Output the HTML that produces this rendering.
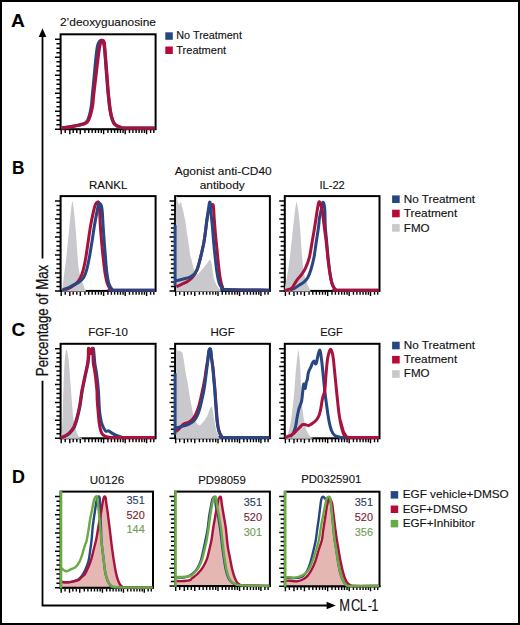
<!DOCTYPE html>
<html><head><meta charset="utf-8"><title>figure</title>
<style>
html,body{margin:0;padding:0;background:#fff;width:520px;height:625px;overflow:hidden;}
svg{display:block;}
text{font-family:"Liberation Sans",sans-serif;}
</style></head><body>
<svg width="520" height="625" viewBox="0 0 520 625">
<rect x="0" y="0" width="520" height="625" fill="#fff"/>
<rect x="60.6" y="34.3" width="95" height="94.9" fill="none" stroke="#000" stroke-width="2"/>
<path d="M55 129.2H60.6M56.4 124.7H60.6M56.4 120.2H60.6M56.4 115.7H60.6M55 111.2H60.6M56.4 106.7H60.6M56.4 102.2H60.6M56.4 97.7H60.6M55 93.2H60.6M56.4 88.7H60.6M56.4 84.2H60.6M56.4 79.7H60.6M55 75.2H60.6M56.4 70.7H60.6M56.4 66.2H60.6M56.4 61.7H60.6M55 57.2H60.6M56.4 52.7H60.6M56.4 48.2H60.6M56.4 43.7H60.6M55 39.2H60.6" stroke="#000" stroke-width="1.5" fill="none"/>
<path d="M61.2 129.7V134.2M69.8 129.7V134.2M80.3 129.7V134.2M103.6 129.7V134.2M125.2 129.7V134.2M146.6 129.7V134.2M65.2 129.7V133.1M73.2 129.7V133.1M76.8 129.7V133.1M84.96 129.7V133.1M88.69 129.7V133.1M92.18 129.7V133.1M95.44 129.7V133.1M98.47 129.7V133.1M101.27 129.7V133.1M107.92 129.7V133.1M111.38 129.7V133.1M114.62 129.7V133.1M117.64 129.7V133.1M120.45 129.7V133.1M123.04 129.7V133.1M129.48 129.7V133.1M132.9 129.7V133.1M136.11 129.7V133.1M139.11 129.7V133.1M141.89 129.7V133.1M144.46 129.7V133.1M150.6 129.7V133.1M153.8 129.7V133.1" stroke="#000" stroke-width="1.4" fill="none"/>
<path d="M61 128C62.17 127.85 65.67 127.47 68 127.1C70.33 126.73 73 126.2 75 125.8C77 125.4 78.33 125.13 80 124.7C81.67 124.27 83.75 123.9 85 123.2C86.25 122.5 86.78 121.7 87.5 120.5C88.22 119.3 88.78 117.67 89.3 116C89.82 114.33 90.22 112.42 90.6 110.5C90.98 108.58 91.3 107.02 91.6 104.5C91.9 101.98 92.02 99.48 92.4 95.4C92.78 91.32 93.42 85.12 93.9 80C94.38 74.88 94.88 69.03 95.3 64.7C95.72 60.37 96.02 57.12 96.4 54C96.78 50.88 97.08 48.08 97.6 46C98.12 43.92 98.85 42.45 99.5 41.5C100.15 40.55 100.85 40.13 101.5 40.3C102.15 40.47 102.88 40.98 103.4 42.5C103.92 44.02 104.2 45.7 104.6 49.4C105 53.1 105.4 59.6 105.8 64.7C106.2 69.8 106.58 74.88 107 80C107.42 85.12 107.78 90.27 108.3 95.4C108.82 100.53 109.43 106.7 110.1 110.8C110.77 114.9 111.48 117.7 112.3 120C113.12 122.3 113.77 123.43 115 124.6C116.23 125.77 118.03 126.43 119.7 127C121.37 127.57 119.1 127.83 125 128C130.9 128.17 150.08 128 155.1 128" fill="none" stroke="#284782" stroke-width="3.2" stroke-linejoin="round" stroke-linecap="butt"/>
<path d="M61 128C62.17 127.88 65.67 127.63 68 127.3C70.33 126.97 73 126.38 75 126C77 125.62 78.33 125.4 80 125C81.67 124.6 83.67 124.27 85 123.6C86.33 122.93 87.17 122.18 88 121C88.83 119.82 89.42 118.17 90 116.5C90.58 114.83 91.05 112.92 91.5 111C91.95 109.08 92.35 107.6 92.7 105C93.05 102.4 93.15 99.57 93.6 95.4C94.05 91.23 94.8 85.12 95.4 80C96 74.88 96.58 69.7 97.2 64.7C97.82 59.7 98.53 53.7 99.1 50C99.67 46.3 100.05 44.12 100.6 42.5C101.15 40.88 101.82 40.38 102.4 40.3C102.98 40.22 103.68 40.48 104.1 42C104.52 43.52 104.57 45.62 104.9 49.4C105.23 53.18 105.7 59.6 106.1 64.7C106.5 69.8 106.88 74.88 107.3 80C107.72 85.12 108.08 90.27 108.6 95.4C109.12 100.53 109.73 106.7 110.4 110.8C111.07 114.9 111.78 117.7 112.6 120C113.42 122.3 114.07 123.43 115.3 124.6C116.53 125.77 118.38 126.43 120 127C121.62 127.57 119.15 127.83 125 128C130.85 128.17 150.08 128 155.1 128" fill="none" stroke="#a8123c" stroke-width="3.2" stroke-linejoin="round" stroke-linecap="butt"/>
<rect x="60.6" y="196.1" width="95" height="94.8" fill="none" stroke="#000" stroke-width="2"/>
<path d="M55 290.9H60.6M56.4 286.4H60.6M56.4 281.91H60.6M56.4 277.41H60.6M55 272.92H60.6M56.4 268.42H60.6M56.4 263.93H60.6M56.4 259.43H60.6M55 254.94H60.6M56.4 250.44H60.6M56.4 245.95H60.6M56.4 241.45H60.6M55 236.96H60.6M56.4 232.46H60.6M56.4 227.97H60.6M56.4 223.47H60.6M55 218.97H60.6M56.4 214.48H60.6M56.4 209.98H60.6M56.4 205.49H60.6M55 200.99H60.6" stroke="#000" stroke-width="1.5" fill="none"/>
<path d="M61.2 291.4V295.9M69.8 291.4V295.9M80.3 291.4V295.9M103.6 291.4V295.9M125.2 291.4V295.9M146.6 291.4V295.9M65.2 291.4V294.8M73.2 291.4V294.8M76.8 291.4V294.8M84.96 291.4V294.8M88.69 291.4V294.8M92.18 291.4V294.8M95.44 291.4V294.8M98.47 291.4V294.8M101.27 291.4V294.8M107.92 291.4V294.8M111.38 291.4V294.8M114.62 291.4V294.8M117.64 291.4V294.8M120.45 291.4V294.8M123.04 291.4V294.8M129.48 291.4V294.8M132.9 291.4V294.8M136.11 291.4V294.8M139.11 291.4V294.8M141.89 291.4V294.8M144.46 291.4V294.8M150.6 291.4V294.8M153.8 291.4V294.8" stroke="#000" stroke-width="1.4" fill="none"/>
<rect x="175.1" y="196.1" width="94.8" height="94.8" fill="none" stroke="#000" stroke-width="2"/>
<path d="M169.5 290.9H175.1M170.9 286.4H175.1M170.9 281.91H175.1M170.9 277.41H175.1M169.5 272.92H175.1M170.9 268.42H175.1M170.9 263.93H175.1M170.9 259.43H175.1M169.5 254.94H175.1M170.9 250.44H175.1M170.9 245.95H175.1M170.9 241.45H175.1M169.5 236.96H175.1M170.9 232.46H175.1M170.9 227.97H175.1M170.9 223.47H175.1M169.5 218.97H175.1M170.9 214.48H175.1M170.9 209.98H175.1M170.9 205.49H175.1M169.5 200.99H175.1" stroke="#000" stroke-width="1.5" fill="none"/>
<path d="M175.7 291.4V295.9M184.28 291.4V295.9M194.76 291.4V295.9M218.01 291.4V295.9M239.56 291.4V295.9M260.92 291.4V295.9M179.69 291.4V294.8M187.67 291.4V294.8M191.26 291.4V294.8M199.41 291.4V294.8M203.13 291.4V294.8M206.62 291.4V294.8M209.87 291.4V294.8M212.89 291.4V294.8M215.68 291.4V294.8M222.32 291.4V294.8M225.77 291.4V294.8M229 291.4V294.8M232.02 291.4V294.8M234.82 291.4V294.8M237.41 291.4V294.8M243.84 291.4V294.8M247.25 291.4V294.8M250.46 291.4V294.8M253.45 291.4V294.8M256.22 291.4V294.8M258.79 291.4V294.8M264.91 291.4V294.8M268.11 291.4V294.8" stroke="#000" stroke-width="1.4" fill="none"/>
<rect x="284.8" y="196.1" width="94.7" height="94.8" fill="none" stroke="#000" stroke-width="2"/>
<path d="M279.2 290.9H284.8M280.6 286.4H284.8M280.6 281.91H284.8M280.6 277.41H284.8M279.2 272.92H284.8M280.6 268.42H284.8M280.6 263.93H284.8M280.6 259.43H284.8M279.2 254.94H284.8M280.6 250.44H284.8M280.6 245.95H284.8M280.6 241.45H284.8M279.2 236.96H284.8M280.6 232.46H284.8M280.6 227.97H284.8M280.6 223.47H284.8M279.2 218.97H284.8M280.6 214.48H284.8M280.6 209.98H284.8M280.6 205.49H284.8M279.2 200.99H284.8" stroke="#000" stroke-width="1.5" fill="none"/>
<path d="M285.4 291.4V295.9M293.97 291.4V295.9M304.44 291.4V295.9M327.66 291.4V295.9M349.2 291.4V295.9M370.53 291.4V295.9M289.38 291.4V294.8M297.36 291.4V294.8M300.95 291.4V294.8M309.08 291.4V294.8M312.8 291.4V294.8M316.28 291.4V294.8M319.53 291.4V294.8M322.55 291.4V294.8M325.34 291.4V294.8M331.97 291.4V294.8M335.42 291.4V294.8M338.65 291.4V294.8M341.66 291.4V294.8M344.46 291.4V294.8M347.04 291.4V294.8M353.46 291.4V294.8M356.88 291.4V294.8M360.08 291.4V294.8M363.06 291.4V294.8M365.84 291.4V294.8M368.4 291.4V294.8M374.52 291.4V294.8M377.71 291.4V294.8" stroke="#000" stroke-width="1.4" fill="none"/>
<path d="M62 291.4C62 291.2 61.87 291.25 62 290.2C62.13 289.15 62.38 287.99 62.77 285.09C63.15 282.19 63.72 277.41 64.3 272.8C64.89 268.19 65.71 262.56 66.3 257.44C66.89 252.32 67.33 247.2 67.84 242.08C68.35 236.96 68.86 231.84 69.37 226.72C69.89 221.6 70.5 215.2 70.91 211.36C71.32 207.52 71.58 205.32 71.83 203.68C72.09 202.04 72.24 201.53 72.45 201.53C72.65 201.53 72.81 202.04 73.06 203.68C73.32 205.32 73.57 207.52 73.98 211.36C74.39 215.2 75.08 221.6 75.52 226.72C75.95 231.84 76.24 236.96 76.59 242.08C76.95 247.2 77.29 252.83 77.67 257.44C78.05 262.05 78.31 266.14 78.9 269.73C79.49 273.31 80.44 276.38 81.2 278.94C81.97 281.5 82.87 283.3 83.51 285.09C84.15 286.88 84.66 288.84 85.04 289.7C85.43 290.55 85.68 289.92 85.81 290.2C85.94 290.48 85.81 291.2 85.81 291.4Z" fill="#c9c9cd" stroke="none"/>
<path d="M65.07 290C66.1 289.49 69.17 288.21 71.22 286.93C73.27 285.65 75.83 283.86 77.36 282.32C78.9 280.79 79.46 279.76 80.44 277.72C81.41 275.67 82.3 273.41 83.2 270.04C84.1 266.66 84.99 262.1 85.81 257.44C86.63 252.78 87.35 247.2 88.12 242.08C88.89 236.96 89.53 231.84 90.42 226.72C91.32 221.6 92.65 215.07 93.49 211.36C94.34 207.65 94.85 205.98 95.49 204.45C96.13 202.91 96.77 202.4 97.34 202.14C97.9 201.89 98.49 201.38 98.87 202.91C99.26 204.45 99.38 207.39 99.64 211.36C99.9 215.33 100.07 221.6 100.41 226.72C100.74 231.84 101.18 236.96 101.64 242.08C102.1 247.2 102.61 252.32 103.17 257.44C103.74 262.56 104.33 268.45 105.02 272.8C105.71 277.15 106.43 280.84 107.32 283.55C108.22 286.27 109.5 287.97 110.39 289.08C111.29 290.19 105.25 290.01 112.7 290.2C120.15 290.39 148.03 290.2 155.1 290.2" fill="none" stroke="#a8123c" stroke-width="3" stroke-linejoin="round" stroke-linecap="butt"/>
<path d="M62 290.2C62.77 289.91 64.82 289.27 66.61 288.47C68.4 287.67 70.71 286.42 72.75 285.4C74.8 284.37 77.11 283.6 78.9 282.32C80.69 281.04 82.23 279.76 83.51 277.72C84.79 275.67 85.61 273.41 86.58 270.04C87.55 266.66 88.45 262.1 89.35 257.44C90.24 252.78 91.14 247.2 91.96 242.08C92.78 236.96 93.42 231.84 94.26 226.72C95.11 221.6 96.31 215.07 97.03 211.36C97.74 207.65 98.1 205.78 98.56 204.45C99.03 203.12 99.36 203.24 99.79 203.37C100.23 203.5 100.77 203.88 101.18 205.22C101.59 206.55 101.92 207.78 102.25 211.36C102.58 214.94 102.84 221.6 103.17 226.72C103.51 231.84 103.86 236.96 104.25 242.08C104.63 247.2 105.04 252.32 105.48 257.44C105.91 262.56 106.3 268.45 106.86 272.8C107.42 277.15 108.01 280.84 108.86 283.55C109.7 286.27 111.03 287.97 111.93 289.08C112.83 290.19 107.04 290.01 114.23 290.2C121.43 290.39 148.29 290.2 155.1 290.2" fill="none" stroke="#284782" stroke-width="3" stroke-linejoin="round" stroke-linecap="butt"/>
<path d="M176 291.4C176 291.2 176 304.93 176 290.2C176 275.47 175.7 217.73 176 203C176.3 188.27 177.3 201.47 177.8 201.8C178.3 202.13 178.63 204.92 179 205C179.37 205.08 179.63 202.63 180 202.3C180.37 201.97 180.87 202.22 181.2 203C181.53 203.78 181.68 205.77 182 207C182.32 208.23 182.58 208.23 183.1 210.4C183.62 212.57 184.53 216.78 185.1 220C185.67 223.22 186.03 226.48 186.5 229.7C186.97 232.92 187.42 236.1 187.9 239.3C188.38 242.5 189 246.18 189.4 248.9C189.8 251.62 189.9 253.63 190.3 255.6C190.7 257.57 191.32 258.85 191.8 260.7C192.28 262.55 192.75 264.87 193.2 266.7C193.65 268.53 193.98 270.55 194.5 271.7C195.02 272.85 195.72 273.23 196.3 273.6C196.88 273.97 197.12 274.52 198 273.9C198.88 273.28 200.22 271.48 201.6 269.9C202.98 268.32 204.92 266.1 206.3 264.4C207.68 262.7 208.98 259.7 209.9 259.7C210.82 259.7 211.18 261.47 211.8 264.4C212.42 267.33 212.98 274.23 213.6 277.3C214.22 280.37 214.88 281.27 215.5 282.8C216.12 284.33 216.53 285.27 217.3 286.5C218.07 287.73 219.48 289.58 220.1 290.2C220.72 290.82 220.85 290 221 290.2C221.15 290.4 221 291.2 221 291.4Z" fill="#c9c9cd" stroke="none"/>
<path d="M176.3 286.62C177.2 286.24 179.76 285.22 181.68 284.32C183.6 283.42 186.03 282.4 187.83 281.25C189.62 280.1 190.9 279.33 192.44 277.41C193.97 275.49 195.89 272.29 197.04 269.73C198.2 267.17 198.58 264.86 199.35 262.05C200.12 259.23 200.89 256.16 201.65 252.83C202.42 249.5 203.32 245.66 203.96 242.08C204.6 238.5 204.98 235.17 205.49 231.33C206.01 227.49 206.44 222.62 207.03 219.04C207.62 215.46 208.39 211.87 209.03 209.82C209.67 207.78 210.18 207.52 210.87 206.75C211.56 205.98 212.61 203.17 213.18 205.22C213.74 207.26 213.87 214.18 214.25 219.04C214.64 223.9 215.02 229.28 215.48 234.4C215.94 239.52 216.5 244.64 217.02 249.76C217.53 254.88 218.04 260.51 218.55 265.12C219.07 269.73 219.45 273.82 220.09 277.41C220.73 280.99 221.37 284.63 222.39 286.62C223.42 288.62 218.4 288.79 226.23 289.39C234.07 289.98 262.21 290.06 269.4 290.2" fill="none" stroke="#a8123c" stroke-width="3" stroke-linejoin="round" stroke-linecap="butt"/>
<path d="M175.1 225.18C175.1 234.4 175.1 271.26 175.1 280.48C175.1 289.7 174.77 280.48 175.1 280.48C175.43 280.48 175.72 280.74 177.07 280.48C178.43 280.22 181.17 279.46 183.22 278.94C185.27 278.43 187.57 278.18 189.36 277.41C191.16 276.64 192.69 275.62 193.97 274.34C195.25 273.06 196.15 271.78 197.04 269.73C197.94 267.68 198.58 264.86 199.35 262.05C200.12 259.23 200.89 256.16 201.65 252.83C202.42 249.5 203.32 245.66 203.96 242.08C204.6 238.5 204.98 235.17 205.49 231.33C206.01 227.49 206.52 222.88 207.03 219.04C207.54 215.2 208.13 211.1 208.57 208.29C209 205.47 209.31 202.66 209.64 202.14C209.98 201.63 210.31 203.17 210.56 205.22C210.82 207.26 210.87 210.85 211.18 214.43C211.49 218.02 212 222.11 212.41 226.72C212.82 231.33 213.18 236.96 213.64 242.08C214.1 247.2 214.61 252.32 215.17 257.44C215.74 262.56 216.33 268.45 217.02 272.8C217.71 277.15 218.43 280.99 219.32 283.55C220.22 286.11 221.24 287.19 222.39 288.16C223.55 289.13 218.4 289.05 226.23 289.39C234.07 289.73 262.21 290.06 269.4 290.2" fill="none" stroke="#284782" stroke-width="3" stroke-linejoin="round" stroke-linecap="butt"/>
<path d="M284.8 291.4C284.8 291.2 284.8 290.61 284.8 290.2C284.8 289.79 284.68 289.91 284.8 288.93C284.92 287.95 285.06 287.01 285.54 284.32C286.02 281.63 286.97 277.28 287.69 272.8C288.4 268.32 289.2 262.56 289.84 257.44C290.48 252.32 290.96 247.2 291.53 242.08C292.09 236.96 292.65 231.84 293.22 226.72C293.78 221.6 294.47 214.94 294.91 211.36C295.34 207.78 295.55 206.8 295.83 205.22C296.11 203.63 296.34 201.84 296.6 201.84C296.85 201.84 297.06 203.63 297.37 205.22C297.67 206.8 298.01 207.78 298.44 211.36C298.88 214.94 299.54 221.6 299.98 226.72C300.41 231.84 300.69 236.96 301.05 242.08C301.41 247.2 301.74 252.83 302.13 257.44C302.51 262.05 302.79 266.14 303.36 269.73C303.92 273.31 304.77 276.38 305.51 278.94C306.25 281.5 307.1 283.3 307.81 285.09C308.53 286.88 309.37 288.84 309.81 289.7C310.25 290.55 310.32 289.92 310.42 290.2C310.53 290.48 310.42 291.2 310.42 291.4Z" fill="#c9c9cd" stroke="none"/>
<path d="M290.15 290C290.91 289.7 293.22 288.98 294.75 288.16C296.29 287.34 297.83 286.11 299.36 285.09C300.9 284.06 302.56 283.3 303.97 282.02C305.38 280.74 306.66 279.46 307.81 277.41C308.97 275.36 309.86 273.06 310.89 269.73C311.91 266.4 313.06 262.05 313.96 257.44C314.85 252.83 315.49 247.2 316.26 242.08C317.03 236.96 318.05 230.56 318.57 226.72C319.08 222.88 318.95 221.6 319.34 219.04C319.72 216.48 320.36 213.92 320.87 211.36C321.38 208.8 322.02 205.16 322.41 203.68C322.79 202.2 322.87 202.2 323.18 202.45C323.48 202.71 323.97 203.73 324.25 205.22C324.53 206.7 324.69 207.78 324.87 211.36C325.05 214.94 325.02 221.6 325.33 226.72C325.63 231.84 326.25 236.96 326.71 242.08C327.17 247.2 327.55 252.32 328.09 257.44C328.63 262.56 329.27 268.45 329.94 272.8C330.6 277.15 331.24 280.86 332.09 283.55C332.93 286.24 334.06 287.82 335.01 288.93C335.95 290.04 330.44 289.99 337.77 290.2C345.1 290.41 372.13 290.2 379 290.2" fill="none" stroke="#284782" stroke-width="3" stroke-linejoin="round" stroke-linecap="butt"/>
<path d="M284.8 290.2C285.18 290.17 285.93 290.34 287.07 290C288.22 289.66 290.4 289.24 291.68 288.16C292.96 287.08 293.73 285.09 294.75 283.55C295.78 282.02 296.67 280.48 297.83 278.94C298.98 277.41 300.39 276.13 301.67 274.34C302.95 272.54 304.23 271.01 305.51 268.19C306.79 265.38 308.25 261.79 309.35 257.44C310.45 253.09 311.22 247.2 312.11 242.08C313.01 236.96 313.91 231.84 314.73 226.72C315.55 221.6 316.47 214.94 317.03 211.36C317.59 207.78 317.77 206.8 318.11 205.22C318.44 203.63 318.7 202.22 319.03 201.84C319.36 201.45 319.8 202.35 320.1 202.91C320.41 203.48 320.49 203.81 320.87 205.22C321.26 206.62 321.84 207.78 322.41 211.36C322.97 214.94 323.61 221.6 324.25 226.72C324.89 231.84 325.66 236.96 326.25 242.08C326.84 247.2 327.2 252.32 327.78 257.44C328.37 262.56 329.09 268.45 329.78 272.8C330.47 277.15 331.11 280.86 331.93 283.55C332.75 286.24 333.73 287.82 334.7 288.93C335.67 290.04 330.39 289.99 337.77 290.2C345.15 290.41 372.13 290.2 379 290.2" fill="none" stroke="#a8123c" stroke-width="3" stroke-linejoin="round" stroke-linecap="butt"/>
<rect x="60.6" y="343.8" width="95" height="94.5" fill="none" stroke="#000" stroke-width="2"/>
<path d="M55 438.3H60.6M56.4 433.82H60.6M56.4 429.34H60.6M56.4 424.86H60.6M55 420.37H60.6M56.4 415.89H60.6M56.4 411.41H60.6M56.4 406.93H60.6M55 402.45H60.6M56.4 397.97H60.6M56.4 393.49H60.6M56.4 389H60.6M55 384.52H60.6M56.4 380.04H60.6M56.4 375.56H60.6M56.4 371.08H60.6M55 366.6H60.6M56.4 362.12H60.6M56.4 357.63H60.6M56.4 353.15H60.6M55 348.67H60.6" stroke="#000" stroke-width="1.5" fill="none"/>
<path d="M61.2 438.8V443.3M69.8 438.8V443.3M80.3 438.8V443.3M103.6 438.8V443.3M125.2 438.8V443.3M146.6 438.8V443.3M65.2 438.8V442.2M73.2 438.8V442.2M76.8 438.8V442.2M84.96 438.8V442.2M88.69 438.8V442.2M92.18 438.8V442.2M95.44 438.8V442.2M98.47 438.8V442.2M101.27 438.8V442.2M107.92 438.8V442.2M111.38 438.8V442.2M114.62 438.8V442.2M117.64 438.8V442.2M120.45 438.8V442.2M123.04 438.8V442.2M129.48 438.8V442.2M132.9 438.8V442.2M136.11 438.8V442.2M139.11 438.8V442.2M141.89 438.8V442.2M144.46 438.8V442.2M150.6 438.8V442.2M153.8 438.8V442.2" stroke="#000" stroke-width="1.4" fill="none"/>
<rect x="175.1" y="343.8" width="94.8" height="94.5" fill="none" stroke="#000" stroke-width="2"/>
<path d="M169.5 438.3H175.1M170.9 433.82H175.1M170.9 429.34H175.1M170.9 424.86H175.1M169.5 420.37H175.1M170.9 415.89H175.1M170.9 411.41H175.1M170.9 406.93H175.1M169.5 402.45H175.1M170.9 397.97H175.1M170.9 393.49H175.1M170.9 389H175.1M169.5 384.52H175.1M170.9 380.04H175.1M170.9 375.56H175.1M170.9 371.08H175.1M169.5 366.6H175.1M170.9 362.12H175.1M170.9 357.63H175.1M170.9 353.15H175.1M169.5 348.67H175.1" stroke="#000" stroke-width="1.5" fill="none"/>
<path d="M175.7 438.8V443.3M184.28 438.8V443.3M194.76 438.8V443.3M218.01 438.8V443.3M239.56 438.8V443.3M260.92 438.8V443.3M179.69 438.8V442.2M187.67 438.8V442.2M191.26 438.8V442.2M199.41 438.8V442.2M203.13 438.8V442.2M206.62 438.8V442.2M209.87 438.8V442.2M212.89 438.8V442.2M215.68 438.8V442.2M222.32 438.8V442.2M225.77 438.8V442.2M229 438.8V442.2M232.02 438.8V442.2M234.82 438.8V442.2M237.41 438.8V442.2M243.84 438.8V442.2M247.25 438.8V442.2M250.46 438.8V442.2M253.45 438.8V442.2M256.22 438.8V442.2M258.79 438.8V442.2M264.91 438.8V442.2M268.11 438.8V442.2" stroke="#000" stroke-width="1.4" fill="none"/>
<rect x="284.8" y="343.8" width="94.7" height="94.5" fill="none" stroke="#000" stroke-width="2"/>
<path d="M279.2 438.3H284.8M280.6 433.82H284.8M280.6 429.34H284.8M280.6 424.86H284.8M279.2 420.37H284.8M280.6 415.89H284.8M280.6 411.41H284.8M280.6 406.93H284.8M279.2 402.45H284.8M280.6 397.97H284.8M280.6 393.49H284.8M280.6 389H284.8M279.2 384.52H284.8M280.6 380.04H284.8M280.6 375.56H284.8M280.6 371.08H284.8M279.2 366.6H284.8M280.6 362.12H284.8M280.6 357.63H284.8M280.6 353.15H284.8M279.2 348.67H284.8" stroke="#000" stroke-width="1.5" fill="none"/>
<path d="M285.4 438.8V443.3M293.97 438.8V443.3M304.44 438.8V443.3M327.66 438.8V443.3M349.2 438.8V443.3M370.53 438.8V443.3M289.38 438.8V442.2M297.36 438.8V442.2M300.95 438.8V442.2M309.08 438.8V442.2M312.8 438.8V442.2M316.28 438.8V442.2M319.53 438.8V442.2M322.55 438.8V442.2M325.34 438.8V442.2M331.97 438.8V442.2M335.42 438.8V442.2M338.65 438.8V442.2M341.66 438.8V442.2M344.46 438.8V442.2M347.04 438.8V442.2M353.46 438.8V442.2M356.88 438.8V442.2M360.08 438.8V442.2M363.06 438.8V442.2M365.84 438.8V442.2M368.4 438.8V442.2M374.52 438.8V442.2M377.71 438.8V442.2" stroke="#000" stroke-width="1.4" fill="none"/>
<path d="M61.4 438.8C61.4 438.6 61.32 439.07 61.4 437.6C61.48 436.13 61.7 433.3 61.9 430C62.1 426.7 62.4 422.9 62.6 417.8C62.8 412.7 62.92 405.55 63.1 399.4C63.28 393.25 63.45 387.05 63.7 380.9C63.95 374.75 64.3 367.12 64.6 362.5C64.9 357.88 65.18 355.37 65.5 353.2C65.82 351.03 66.15 349.5 66.5 349.5C66.85 349.5 67.2 351.03 67.6 353.2C68 355.37 68.45 357.88 68.9 362.5C69.35 367.12 69.83 374.75 70.3 380.9C70.77 387.05 71.2 393.25 71.7 399.4C72.2 405.55 72.73 413.18 73.3 417.8C73.87 422.42 74.4 424.32 75.1 427.1C75.8 429.88 76.63 432.75 77.5 434.5C78.37 436.25 79.55 437.08 80.3 437.6C81.05 438.12 81.72 437.4 82 437.6C82.28 437.8 82 438.6 82 438.8Z" fill="#c9c9cd" stroke="none"/>
<path d="M60.6 437.6C61.3 437.42 63.32 437.2 64.8 436.5C66.28 435.8 67.95 434.9 69.5 433.4C71.05 431.9 72.8 430.07 74.1 427.5C75.4 424.93 76.3 421.67 77.3 418C78.3 414.33 79.32 409.75 80.1 405.5C80.88 401.25 81.45 395.92 82 392.5C82.55 389.08 82.92 387.42 83.4 385C83.88 382.58 84.37 380.5 84.9 378C85.43 375.5 86.08 372.42 86.6 370C87.12 367.58 87.63 365.83 88 363.5C88.37 361.17 88.6 358.42 88.8 356C89 353.58 89 350 89.2 349C89.4 348 89.67 349.33 90 350C90.33 350.67 90.82 353.08 91.2 353C91.58 352.92 91.93 350.23 92.3 349.5C92.67 348.77 93.08 347.52 93.4 348.6C93.72 349.68 93.97 353.57 94.2 356C94.43 358.43 94.5 360.87 94.8 363.2C95.1 365.53 95.62 367.58 96 370C96.38 372.42 96.78 375.2 97.1 377.7C97.42 380.2 97.67 382.6 97.9 385C98.13 387.4 98.33 389.6 98.5 392.1C98.67 394.6 98.72 396.77 98.9 400C99.08 403.23 99.22 407.92 99.6 411.5C99.98 415.08 100.55 418.8 101.2 421.5C101.85 424.2 102.73 426.08 103.5 427.7C104.27 429.32 104.95 430.67 105.8 431.2C106.65 431.73 107.58 430.58 108.6 430.9C109.62 431.22 110.58 432.35 111.9 433.1C113.22 433.85 114.95 434.77 116.5 435.4C118.05 436.03 119.78 436.55 121.2 436.9C122.62 437.25 119.35 437.38 125 437.5C130.65 437.62 150.08 437.58 155.1 437.6" fill="none" stroke="#284782" stroke-width="3" stroke-linejoin="round" stroke-linecap="butt"/>
<path d="M60.6 437.6C61.27 437.37 63.17 436.95 64.6 436.2C66.03 435.45 67.67 434.63 69.2 433.1C70.73 431.57 72.52 429.57 73.8 427C75.08 424.43 75.92 421.3 76.9 417.7C77.88 414.1 78.92 409.67 79.7 405.4C80.48 401.13 81.05 395.5 81.6 392.1C82.15 388.7 82.52 387.4 83 385C83.48 382.6 83.97 380.2 84.5 377.7C85.03 375.2 85.68 372.42 86.2 370C86.72 367.58 87.25 365.53 87.6 363.2C87.95 360.87 88.17 358.43 88.3 356C88.43 353.57 88.23 349.6 88.4 348.6C88.57 347.6 88.93 349.17 89.3 350C89.67 350.83 90.2 353.6 90.6 353.6C91 353.6 91.37 350.83 91.7 350C92.03 349.17 92.38 347.6 92.6 348.6C92.82 349.6 92.88 353.57 93 356C93.12 358.43 93.05 360.87 93.3 363.2C93.55 365.53 94.12 367.58 94.5 370C94.88 372.42 95.28 375.2 95.6 377.7C95.92 380.2 96.17 382.6 96.4 385C96.63 387.4 96.87 389.6 97 392.1C97.13 394.6 97.02 396.77 97.2 400C97.38 403.23 97.77 407.67 98.1 411.5C98.43 415.33 98.75 419.78 99.2 423C99.65 426.22 100.22 428.87 100.8 430.8C101.38 432.73 101.87 433.65 102.7 434.6C103.53 435.55 104.52 436.03 105.8 436.5C107.08 436.97 108.87 437.22 110.4 437.4C111.93 437.58 107.55 437.57 115 437.6C122.45 437.63 148.42 437.6 155.1 437.6" fill="none" stroke="#a8123c" stroke-width="3" stroke-linejoin="round" stroke-linecap="butt"/>
<path d="M176.15 438.8C176.15 438.6 176.15 451.86 176.15 437.6C176.15 423.34 176.05 367.89 176.15 353.22C176.25 338.54 176.46 349.84 176.77 349.53C177.07 349.22 177.53 351.22 177.99 351.37C178.46 351.53 179.02 350.4 179.53 350.45C180.04 350.5 180.61 351.32 181.07 351.68C181.53 352.04 181.94 351.73 182.3 352.6C182.65 353.47 182.91 355.26 183.22 356.9C183.53 358.54 183.77 359.97 184.14 362.43C184.51 364.89 184.92 368.58 185.45 371.65C185.97 374.72 186.74 377.79 187.29 380.86C187.84 383.94 188.25 386.98 188.75 390.08C189.25 393.18 189.72 396.35 190.28 399.45C190.85 402.55 191.51 405.59 192.13 408.67C192.74 411.74 193.15 415.42 193.97 417.88C194.79 420.34 196.07 422.18 197.04 423.41C198.02 424.64 198.73 425.56 199.81 425.25C200.89 424.95 202.27 423.1 203.5 421.57C204.73 420.03 206.11 418.19 207.18 416.04C208.26 413.89 209.18 410.2 209.95 408.67C210.72 407.13 211.33 406.52 211.79 406.82C212.25 407.13 212.25 408.05 212.72 410.51C213.18 412.97 213.94 418.19 214.56 421.57C215.17 424.95 215.63 428.33 216.4 430.78C217.17 433.24 218.43 435.18 219.17 436.31C219.91 437.45 220.58 437.19 220.86 437.6C221.14 438.01 220.86 438.6 220.86 438.8Z" fill="#c9c9cd" stroke="none"/>
<path d="M176.3 431.55C176.94 430.91 178.86 428.99 180.15 427.71C181.43 426.43 182.58 424.77 183.99 423.87C185.39 422.98 187.19 423.1 188.59 422.34C190 421.57 191.28 420.54 192.44 419.26C193.59 417.98 194.48 416.7 195.51 414.66C196.53 412.61 197.68 409.79 198.58 406.98C199.48 404.16 200.12 401.09 200.89 397.76C201.65 394.43 202.55 390.08 203.19 387.01C203.83 383.94 204.21 382.4 204.73 379.33C205.24 376.26 205.75 371.9 206.26 368.58C206.77 365.25 207.34 362.3 207.8 359.36C208.26 356.42 208.57 352.45 209.03 350.91C209.49 349.38 210.1 348.74 210.56 350.14C211.03 351.55 211.41 356.54 211.79 359.36C212.18 362.18 212.51 363.97 212.87 367.04C213.23 370.11 213.59 373.95 213.94 377.79C214.3 381.63 214.66 385.47 215.02 390.08C215.38 394.69 215.71 400.32 216.09 405.44C216.48 410.56 216.86 416.7 217.32 420.8C217.78 424.9 218.22 427.58 218.86 430.02C219.5 432.45 220.19 434.16 221.16 435.39C222.14 436.62 216.66 437.02 224.7 437.39C232.74 437.76 261.95 437.56 269.4 437.6" fill="none" stroke="#a8123c" stroke-width="3" stroke-linejoin="round" stroke-linecap="butt"/>
<path d="M175.1 373.18C175.1 382.53 175.1 419.9 175.1 429.25C175.1 438.59 174.77 429.5 175.1 429.25C175.43 428.99 175.72 428.22 177.07 427.71C178.43 427.2 181.17 426.82 183.22 426.18C185.27 425.54 187.57 424.77 189.36 423.87C191.16 422.98 192.69 422.08 193.97 420.8C195.25 419.52 196.15 417.98 197.04 416.19C197.94 414.4 198.58 412.61 199.35 410.05C200.12 407.49 200.89 404.16 201.65 400.83C202.42 397.5 203.32 393.66 203.96 390.08C204.6 386.5 204.98 383.17 205.49 379.33C206.01 375.49 206.6 370.62 207.03 367.04C207.47 363.46 207.77 360.64 208.11 357.82C208.44 355.01 208.62 351.55 209.03 350.14C209.44 348.74 210.13 347.84 210.56 349.38C211 350.91 211.28 356.42 211.64 359.36C212 362.3 212.38 363.97 212.72 367.04C213.05 370.11 213.3 373.95 213.64 377.79C213.97 381.63 214.35 385.47 214.71 390.08C215.07 394.69 215.4 400.32 215.79 405.44C216.17 410.56 216.56 416.7 217.02 420.8C217.48 424.9 217.91 427.58 218.55 430.02C219.19 432.45 219.83 434.16 220.86 435.39C221.88 436.62 216.61 437.02 224.7 437.39C232.79 437.76 261.95 437.56 269.4 437.6" fill="none" stroke="#284782" stroke-width="3" stroke-linejoin="round" stroke-linecap="butt"/>
<path d="M285.53 438.8C285.53 438.6 285.41 437.8 285.53 437.6C285.66 437.4 285.79 438.61 286.3 437.6C286.81 436.59 287.84 434.35 288.6 431.55C289.37 428.75 290.19 425.15 290.91 420.8C291.62 416.45 292.31 410.56 292.9 405.44C293.49 400.32 294 395.2 294.43 390.08C294.87 384.96 295.07 379.84 295.51 374.72C295.94 369.6 296.66 363.07 297.04 359.36C297.43 355.65 297.61 354.09 297.81 352.45C298.02 350.81 298.12 349.53 298.27 349.53C298.42 349.53 298.5 350.81 298.73 352.45C298.96 354.09 299.35 355.65 299.65 359.36C299.96 363.07 300.32 369.6 300.57 374.72C300.83 379.84 300.93 384.96 301.19 390.08C301.44 395.2 301.7 400.83 302.11 405.44C302.52 410.05 303.08 414.14 303.64 417.73C304.2 421.31 304.79 424.38 305.48 426.94C306.17 429.5 306.89 431.42 307.79 433.09C308.68 434.75 310.09 436.18 310.85 436.93C311.62 437.68 312.13 437.29 312.39 437.6C312.64 437.91 312.39 438.6 312.39 438.8Z" fill="#c9c9cd" stroke="none"/>
<path d="M290.14 436.93C290.65 436.29 292.31 434.75 293.21 433.09C294.1 431.42 294.87 429.5 295.51 426.94C296.15 424.38 296.53 420.54 297.04 417.73C297.55 414.91 298.07 412.1 298.58 410.05C299.09 408 299.6 406.98 300.11 405.44C300.62 403.9 301.26 402.62 301.65 400.83C302.03 399.04 302.16 396.99 302.41 394.69C302.67 392.38 302.93 388.8 303.18 387.01C303.44 385.22 303.62 383.68 303.95 383.94C304.28 384.19 304.79 388.8 305.18 388.54C305.56 388.29 305.89 383.94 306.25 382.4C306.61 380.86 306.99 380.86 307.32 379.33C307.66 377.79 307.91 374.72 308.25 373.18C308.58 371.65 308.88 371.14 309.32 370.11C309.75 369.09 310.34 368.19 310.85 367.04C311.37 365.89 311.88 364.22 312.39 363.2C312.9 362.18 313.41 360.77 313.92 360.9C314.43 361.02 315.02 363.71 315.46 363.97C315.89 364.22 316.2 363.46 316.53 362.43C316.86 361.41 317.12 359.36 317.45 357.82C317.79 356.29 318.17 354.5 318.53 353.22C318.88 351.94 319.27 350.27 319.6 350.14C319.93 350.02 320.24 351.17 320.52 352.45C320.8 353.73 321.03 355.9 321.29 357.82C321.54 359.74 321.75 361.15 322.06 363.97C322.36 366.78 322.77 371.14 323.13 374.72C323.49 378.3 323.82 381.89 324.2 385.47C324.59 389.06 325.02 392.9 325.43 396.22C325.84 399.55 326.28 402.62 326.66 405.44C327.04 408.26 327.3 410.3 327.73 413.12C328.17 415.94 328.63 419.39 329.27 422.34C329.91 425.28 330.68 428.61 331.57 430.78C332.47 432.96 333.36 434.37 334.64 435.39C335.92 436.42 337.68 436.56 339.24 436.93C340.8 437.3 337.37 437.49 344 437.6C350.63 437.71 373.17 437.6 379 437.6" fill="none" stroke="#284782" stroke-width="3" stroke-linejoin="round" stroke-linecap="butt"/>
<path d="M284.8 437.6C285.43 437.36 287.2 436.78 288.6 436.16C290 435.54 291.8 434.88 293.21 433.86C294.61 432.83 295.89 431.17 297.04 430.02C298.19 428.86 299.22 427.84 300.11 426.94C301.01 426.05 301.52 425.02 302.41 424.64C303.31 424.26 304.46 424.51 305.48 424.64C306.51 424.77 307.53 425.54 308.55 425.41C309.58 425.28 310.6 424.51 311.62 423.87C312.64 423.23 313.8 422.34 314.69 421.57C315.59 420.8 316.23 420.42 316.99 419.26C317.76 418.11 318.65 416.45 319.29 414.66C319.93 412.86 320.37 410.82 320.83 408.51C321.29 406.21 321.67 402.88 322.06 400.83C322.44 398.78 322.77 397.5 323.13 396.22C323.49 394.94 323.87 394.69 324.2 393.15C324.54 391.62 324.87 389.57 325.13 387.01C325.38 384.45 325.48 381.12 325.74 377.79C325.99 374.46 326.33 370.37 326.66 367.04C326.99 363.71 327.3 360.38 327.73 357.82C328.17 355.26 328.76 353.09 329.27 351.68C329.78 350.27 330.29 349.12 330.8 349.38C331.31 349.63 331.9 351.55 332.34 353.22C332.77 354.88 333.08 356.8 333.41 359.36C333.74 361.92 334 365.25 334.33 368.58C334.66 371.9 335.05 375.74 335.41 379.33C335.76 382.91 336.1 386.24 336.48 390.08C336.86 393.92 337.3 398.53 337.71 402.37C338.12 406.21 338.48 409.79 338.94 413.12C339.4 416.45 339.91 419.52 340.47 422.34C341.03 425.15 341.72 427.97 342.31 430.02C342.9 432.06 344.32 436.16 344 434.62C343.68 433.09 340.62 421.57 340.4 420.8C340.18 420.03 341.82 427.57 342.7 430C343.58 432.43 344.55 434.17 345.7 435.4C346.85 436.63 344.05 437.03 349.6 437.4C355.15 437.77 374.1 437.57 379 437.6" fill="none" stroke="#a8123c" stroke-width="3" stroke-linejoin="round" stroke-linecap="butt"/>
<rect x="60.6" y="491.6" width="92.4" height="96.1" fill="none" stroke="#000" stroke-width="2"/>
<path d="M55 587.7H60.6M56.4 583.14H60.6M56.4 578.59H60.6M56.4 574.03H60.6M55 569.48H60.6M56.4 564.92H60.6M56.4 560.37H60.6M56.4 555.81H60.6M55 551.25H60.6M56.4 546.7H60.6M56.4 542.14H60.6M56.4 537.59H60.6M55 533.03H60.6M56.4 528.48H60.6M56.4 523.92H60.6M56.4 519.36H60.6M55 514.81H60.6M56.4 510.25H60.6M56.4 505.7H60.6M56.4 501.14H60.6M55 496.59H60.6" stroke="#000" stroke-width="1.5" fill="none"/>
<path d="M61.16 588.2V592.7M69.53 588.2V592.7M79.75 588.2V592.7M102.42 588.2V592.7M123.44 588.2V592.7M144.27 588.2V592.7M65.05 588.2V591.6M72.84 588.2V591.6M76.34 588.2V591.6M84.28 588.2V591.6M87.91 588.2V591.6M91.31 588.2V591.6M94.48 588.2V591.6M97.43 588.2V591.6M100.15 588.2V591.6M106.62 588.2V591.6M109.99 588.2V591.6M113.14 588.2V591.6M116.08 588.2V591.6M118.82 588.2V591.6M121.34 588.2V591.6M127.61 588.2V591.6M130.94 588.2V591.6M134.06 588.2V591.6M136.98 588.2V591.6M139.69 588.2V591.6M142.19 588.2V591.6M148.16 588.2V591.6M151.28 588.2V591.6" stroke="#000" stroke-width="1.4" fill="none"/>
<rect x="175.1" y="491.6" width="94.8" height="94.5" fill="none" stroke="#000" stroke-width="2"/>
<path d="M169.5 586.1H175.1M170.9 581.62H175.1M170.9 577.14H175.1M170.9 572.66H175.1M169.5 568.17H175.1M170.9 563.69H175.1M170.9 559.21H175.1M170.9 554.73H175.1M169.5 550.25H175.1M170.9 545.77H175.1M170.9 541.29H175.1M170.9 536.8H175.1M169.5 532.32H175.1M170.9 527.84H175.1M170.9 523.36H175.1M170.9 518.88H175.1M169.5 514.4H175.1M170.9 509.92H175.1M170.9 505.43H175.1M170.9 500.95H175.1M169.5 496.47H175.1" stroke="#000" stroke-width="1.5" fill="none"/>
<path d="M175.7 586.6V591.1M184.28 586.6V591.1M194.76 586.6V591.1M218.01 586.6V591.1M239.56 586.6V591.1M260.92 586.6V591.1M179.69 586.6V590M187.67 586.6V590M191.26 586.6V590M199.41 586.6V590M203.13 586.6V590M206.62 586.6V590M209.87 586.6V590M212.89 586.6V590M215.68 586.6V590M222.32 586.6V590M225.77 586.6V590M229 586.6V590M232.02 586.6V590M234.82 586.6V590M237.41 586.6V590M243.84 586.6V590M247.25 586.6V590M250.46 586.6V590M253.45 586.6V590M256.22 586.6V590M258.79 586.6V590M264.91 586.6V590M268.11 586.6V590" stroke="#000" stroke-width="1.4" fill="none"/>
<rect x="284.8" y="491.7" width="94.7" height="94.5" fill="none" stroke="#000" stroke-width="2"/>
<path d="M279.2 586.2H284.8M280.6 581.72H284.8M280.6 577.24H284.8M280.6 572.76H284.8M279.2 568.27H284.8M280.6 563.79H284.8M280.6 559.31H284.8M280.6 554.83H284.8M279.2 550.35H284.8M280.6 545.87H284.8M280.6 541.39H284.8M280.6 536.9H284.8M279.2 532.42H284.8M280.6 527.94H284.8M280.6 523.46H284.8M280.6 518.98H284.8M279.2 514.5H284.8M280.6 510.02H284.8M280.6 505.53H284.8M280.6 501.05H284.8M279.2 496.57H284.8" stroke="#000" stroke-width="1.5" fill="none"/>
<path d="M285.4 586.7V591.2M293.97 586.7V591.2M304.44 586.7V591.2M327.66 586.7V591.2M349.2 586.7V591.2M370.53 586.7V591.2M289.38 586.7V590.1M297.36 586.7V590.1M300.95 586.7V590.1M309.08 586.7V590.1M312.8 586.7V590.1M316.28 586.7V590.1M319.53 586.7V590.1M322.55 586.7V590.1M325.34 586.7V590.1M331.97 586.7V590.1M335.42 586.7V590.1M338.65 586.7V590.1M341.66 586.7V590.1M344.46 586.7V590.1M347.04 586.7V590.1M353.46 586.7V590.1M356.88 586.7V590.1M360.08 586.7V590.1M363.06 586.7V590.1M365.84 586.7V590.1M368.4 586.7V590.1M374.52 586.7V590.1M377.71 586.7V590.1" stroke="#000" stroke-width="1.4" fill="none"/>
<path d="M61.5 588.55C61.5 587.43 60.45 582.82 61.5 581.8C62.55 580.77 65.8 582.48 67.8 582.4C69.8 582.32 71.77 581.68 73.5 581.3C75.23 580.92 76.85 580.78 78.2 580.1C79.55 579.42 80.45 578.25 81.6 577.2C82.75 576.15 83.95 575.53 85.1 573.8C86.25 572.07 87.45 569.3 88.5 566.8C89.55 564.3 90.53 561.68 91.4 558.8C92.27 555.92 92.92 552.63 93.7 549.5C94.48 546.37 95.35 543.58 96.1 540C96.85 536.42 97.62 531.33 98.2 528C98.78 524.67 99.1 522.67 99.6 520C100.1 517.33 100.73 514.67 101.2 512C101.67 509.33 102.03 506.17 102.4 504C102.77 501.83 103.07 500.25 103.4 499C103.73 497.75 104.03 496.75 104.4 496.5C104.77 496.25 105.27 496.25 105.6 497.5C105.93 498.75 106.07 501.58 106.4 504C106.73 506.42 107.23 509.33 107.6 512C107.97 514.67 108.27 517.33 108.6 520C108.93 522.67 109.23 525 109.6 528C109.97 531 110.37 534.42 110.8 538C111.23 541.58 111.68 545.65 112.2 549.5C112.72 553.35 113.32 557.43 113.9 561.1C114.48 564.77 115.12 568.62 115.7 571.5C116.28 574.38 116.73 576.28 117.4 578.4C118.07 580.52 118.93 582.85 119.7 584.2C120.47 585.55 121.12 585.98 122 586.5C122.88 587.02 119.92 587.12 125 587.3C130.08 587.47 147.92 587.34 152.5 587.55C157.08 587.76 152.5 588.38 152.5 588.55Z" fill="#e5b7b2" stroke="none"/>
<path d="M59.6 587.7H154" stroke="#000" stroke-width="2" fill="none"/>
<path d="M61.5 582C62.55 582.07 65.8 582.52 67.8 582.4C69.8 582.28 71.77 581.78 73.5 581.3C75.23 580.82 76.85 580.37 78.2 579.5C79.55 578.63 80.45 577.63 81.6 576.1C82.75 574.57 83.95 572.8 85.1 570.3C86.25 567.8 87.63 564.57 88.5 561.1C89.37 557.63 89.78 553.02 90.3 549.5C90.82 545.98 91.22 543.58 91.6 540C91.98 536.42 92.27 531.33 92.6 528C92.93 524.67 93.23 522.67 93.6 520C93.97 517.33 94.4 514.67 94.8 512C95.2 509.33 95.63 506.17 96 504C96.37 501.83 96.6 500.25 97 499C97.4 497.75 97.97 496.75 98.4 496.5C98.83 496.25 99.35 496.25 99.6 497.5C99.85 498.75 99.78 501.58 99.9 504C100.02 506.42 100.18 509.33 100.3 512C100.42 514.67 100.48 517.33 100.6 520C100.72 522.67 100.87 524.67 101 528C101.13 531.33 101.17 536.42 101.4 540C101.63 543.58 102 545.98 102.4 549.5C102.8 553.02 103.32 557.25 103.8 561.1C104.28 564.95 104.67 569.33 105.3 572.6C105.93 575.87 106.73 578.58 107.6 580.7C108.47 582.82 109.27 584.22 110.5 585.3C111.73 586.38 108 586.83 115 587.2C122 587.58 146.25 587.49 152.5 587.55" fill="none" stroke="#284782" stroke-width="2.4" stroke-linejoin="round" stroke-linecap="butt"/>
<path d="M61.5 581.8C62.55 581.9 65.8 582.48 67.8 582.4C69.8 582.32 71.77 581.68 73.5 581.3C75.23 580.92 76.85 580.78 78.2 580.1C79.55 579.42 80.45 578.25 81.6 577.2C82.75 576.15 83.95 575.53 85.1 573.8C86.25 572.07 87.45 569.3 88.5 566.8C89.55 564.3 90.53 561.68 91.4 558.8C92.27 555.92 92.92 552.63 93.7 549.5C94.48 546.37 95.35 543.58 96.1 540C96.85 536.42 97.62 531.33 98.2 528C98.78 524.67 99.1 522.67 99.6 520C100.1 517.33 100.73 514.67 101.2 512C101.67 509.33 102.03 506.17 102.4 504C102.77 501.83 103.07 500.25 103.4 499C103.73 497.75 104.03 496.75 104.4 496.5C104.77 496.25 105.27 496.25 105.6 497.5C105.93 498.75 106.07 501.58 106.4 504C106.73 506.42 107.23 509.33 107.6 512C107.97 514.67 108.27 517.33 108.6 520C108.93 522.67 109.23 525 109.6 528C109.97 531 110.37 534.42 110.8 538C111.23 541.58 111.68 545.65 112.2 549.5C112.72 553.35 113.32 557.43 113.9 561.1C114.48 564.77 115.12 568.62 115.7 571.5C116.28 574.38 116.73 576.28 117.4 578.4C118.07 580.52 118.93 582.85 119.7 584.2C120.47 585.55 121.12 585.98 122 586.5C122.88 587.02 119.92 587.12 125 587.3C130.08 587.47 147.92 587.51 152.5 587.55" fill="none" stroke="#a8123c" stroke-width="2.4" stroke-linejoin="round" stroke-linecap="butt"/>
<path d="M61.5 568C61.75 568.25 62.15 568.95 63 569.5C63.85 570.05 65.23 571.35 66.6 571.3C67.97 571.25 69.67 569.95 71.2 569.2C72.73 568.45 74.45 567.97 75.8 566.8C77.15 565.63 78.33 563.92 79.3 562.2C80.27 560.48 80.93 558.42 81.6 556.5C82.27 554.58 82.72 552.63 83.3 550.7C83.88 548.77 84.52 546.68 85.1 544.9C85.68 543.12 86.18 542.82 86.8 540C87.42 537.18 88.27 531.33 88.8 528C89.33 524.67 89.53 522.67 90 520C90.47 517.33 91.07 514.67 91.6 512C92.13 509.33 92.75 506.17 93.2 504C93.65 501.83 93.87 500.25 94.3 499C94.73 497.75 95.32 496.83 95.8 496.5C96.28 496.17 96.83 495.75 97.2 497C97.57 498.25 97.73 501.5 98 504C98.27 506.5 98.53 509.33 98.8 512C99.07 514.67 99.33 517.33 99.6 520C99.87 522.67 100.12 524.67 100.4 528C100.68 531.33 100.97 536.42 101.3 540C101.63 543.58 101.98 545.98 102.4 549.5C102.82 553.02 103.32 557.25 103.8 561.1C104.28 564.95 104.67 569.33 105.3 572.6C105.93 575.87 106.73 578.58 107.6 580.7C108.47 582.82 109.25 584.25 110.5 585.3C111.75 586.35 113.18 586.65 115.1 587C117.02 587.35 115.77 587.31 122 587.4C128.23 587.49 147.42 587.53 152.5 587.55" fill="none" stroke="#6aaa45" stroke-width="2.4" stroke-linejoin="round" stroke-linecap="butt"/>
<path d="M61 490.8V588.4" stroke="#6aaa45" stroke-width="2.6" fill="none"/>
<path d="M175.5 586.95C175.5 585.94 174.47 581.88 175.5 580.9C176.53 579.92 179.65 581.15 181.7 581.1C183.75 581.05 186.42 580.73 187.8 580.6C189.18 580.47 189.28 580.7 190 580.3C190.72 579.9 190.87 579.25 192.1 578.2C193.33 577.15 195.63 575.77 197.4 574C199.17 572.23 201.12 570.07 202.7 567.6C204.28 565.13 205.75 562.37 206.9 559.2C208.05 556.03 208.83 551.8 209.6 548.6C210.37 545.4 210.9 543.43 211.5 540C212.1 536.57 212.68 531.33 213.2 528C213.72 524.67 214.13 522.67 214.6 520C215.07 517.33 215.5 514.67 216 512C216.5 509.33 217.17 506.17 217.6 504C218.03 501.83 218.23 500.18 218.6 499C218.97 497.82 219.4 497.15 219.8 496.9C220.2 496.65 220.67 496.32 221 497.5C221.33 498.68 221.33 500.92 221.8 504C222.27 507.08 223.13 512 223.8 516C224.47 520 225.27 524 225.8 528C226.33 532 226.62 536.57 227 540C227.38 543.43 227.57 545.4 228.1 548.6C228.63 551.8 229.5 555.68 230.2 559.2C230.9 562.72 231.52 566.53 232.3 569.7C233.08 572.87 234.1 576.08 234.9 578.2C235.7 580.32 236.3 581.35 237.1 582.4C237.9 583.45 238.72 584 239.7 584.5C240.68 585 238.05 585.16 243 585.4C247.95 585.64 265 585.69 269.4 585.95C273.8 586.21 269.4 586.78 269.4 586.95Z" fill="#e5b7b2" stroke="none"/>
<path d="M174.1 586.1H270.9" stroke="#000" stroke-width="2" fill="none"/>
<path d="M175.5 577.2C176.25 577.25 178.42 577.5 180 577.5C181.58 577.5 183.5 577.45 185 577.2C186.5 576.95 187.58 576.7 189 576C190.42 575.3 192.08 574.33 193.5 573C194.92 571.67 196.25 570.17 197.5 568C198.75 565.83 199.98 563.17 201 560C202.02 556.83 202.85 552.33 203.6 549C204.35 545.67 204.8 543.5 205.5 540C206.2 536.5 207.18 532 207.8 528C208.42 524 208.6 520 209.2 516C209.8 512 210.85 506.83 211.4 504C211.95 501.17 212.1 500.17 212.5 499C212.9 497.83 213.33 497.25 213.8 497C214.27 496.75 215 496.33 215.3 497.5C215.6 498.67 215.38 501.92 215.6 504C215.82 506.08 216.2 508 216.6 510C217 512 217.43 513 218 516C218.57 519 219.42 524 220 528C220.58 532 221.08 536.57 221.5 540C221.92 543.43 222.08 545.4 222.5 548.6C222.92 551.8 223.45 555.68 224 559.2C224.55 562.72 225.05 566.53 225.8 569.7C226.55 572.87 227.5 576.08 228.5 578.2C229.5 580.32 230.55 581.33 231.8 582.4C233.05 583.47 233.8 584.1 236 584.6C238.2 585.1 239.43 585.17 245 585.4C250.57 585.62 265.33 585.86 269.4 585.95" fill="none" stroke="#284782" stroke-width="2.4" stroke-linejoin="round" stroke-linecap="butt"/>
<path d="M175.5 580.9C176.53 580.93 179.65 581.15 181.7 581.1C183.75 581.05 186.42 580.73 187.8 580.6C189.18 580.47 189.28 580.7 190 580.3C190.72 579.9 190.87 579.25 192.1 578.2C193.33 577.15 195.63 575.77 197.4 574C199.17 572.23 201.12 570.07 202.7 567.6C204.28 565.13 205.75 562.37 206.9 559.2C208.05 556.03 208.83 551.8 209.6 548.6C210.37 545.4 210.9 543.43 211.5 540C212.1 536.57 212.68 531.33 213.2 528C213.72 524.67 214.13 522.67 214.6 520C215.07 517.33 215.5 514.67 216 512C216.5 509.33 217.17 506.17 217.6 504C218.03 501.83 218.23 500.18 218.6 499C218.97 497.82 219.4 497.15 219.8 496.9C220.2 496.65 220.67 496.32 221 497.5C221.33 498.68 221.33 500.92 221.8 504C222.27 507.08 223.13 512 223.8 516C224.47 520 225.27 524 225.8 528C226.33 532 226.62 536.57 227 540C227.38 543.43 227.57 545.4 228.1 548.6C228.63 551.8 229.5 555.68 230.2 559.2C230.9 562.72 231.52 566.53 232.3 569.7C233.08 572.87 234.1 576.08 234.9 578.2C235.7 580.32 236.3 581.35 237.1 582.4C237.9 583.45 238.72 584 239.7 584.5C240.68 585 238.05 585.16 243 585.4C247.95 585.64 265 585.86 269.4 585.95" fill="none" stroke="#a8123c" stroke-width="2.4" stroke-linejoin="round" stroke-linecap="butt"/>
<path d="M175.5 576.8C176.25 576.83 178.42 577 180 577C181.58 577 183.33 576.95 185 576.8C186.67 576.65 188.47 576.75 190 576.1C191.53 575.45 192.78 574.32 194.2 572.9C195.62 571.48 197.17 569.88 198.5 567.6C199.83 565.32 201.15 562.37 202.2 559.2C203.25 556.03 204.05 551.8 204.8 548.6C205.55 545.4 206.07 543.43 206.7 540C207.33 536.57 208.02 532 208.6 528C209.18 524 209.6 520 210.2 516C210.8 512 211.68 506.83 212.2 504C212.72 501.17 212.9 500.18 213.3 499C213.7 497.82 214.15 497.15 214.6 496.9C215.05 496.65 215.63 496.32 216 497.5C216.37 498.68 216.3 500.92 216.8 504C217.3 507.08 218.3 512 219 516C219.7 520 220.45 524 221 528C221.55 532 221.92 536.57 222.3 540C222.68 543.43 222.9 545.4 223.3 548.6C223.7 551.8 224.17 555.68 224.7 559.2C225.23 562.72 225.77 566.53 226.5 569.7C227.23 572.87 228.13 576.08 229.1 578.2C230.07 580.32 231.07 581.33 232.3 582.4C233.53 583.47 234.38 584.1 236.5 584.6C238.62 585.1 239.52 585.17 245 585.4C250.48 585.62 265.33 585.86 269.4 585.95" fill="none" stroke="#6aaa45" stroke-width="2.4" stroke-linejoin="round" stroke-linecap="butt"/>
<path d="M175.5 490.8V586.8" stroke="#6aaa45" stroke-width="2.6" fill="none"/>
<path d="M285.3 587.05C285.3 585.99 284.52 581.76 285.3 580.7C286.08 579.64 288.07 580.6 290 580.7C291.93 580.8 294.78 581.5 296.9 581.3C299.02 581.1 300.97 580.37 302.7 579.5C304.43 578.63 305.87 577.63 307.3 576.1C308.73 574.57 309.95 572.8 311.3 570.3C312.65 567.8 314.15 564.57 315.4 561.1C316.65 557.63 317.72 553.02 318.8 549.5C319.88 545.98 321.2 542.92 321.9 540C322.6 537.08 322.62 534.67 323 532C323.38 529.33 323.8 526.67 324.2 524C324.6 521.33 325 518.67 325.4 516C325.8 513.33 326.2 510.33 326.6 508C327 505.67 327.43 503.7 327.8 502C328.17 500.3 328.43 498.42 328.8 497.8C329.17 497.18 329.43 497.27 330 498.3C330.57 499.33 331.67 501.72 332.2 504C332.73 506.28 332.87 509.33 333.2 512C333.53 514.67 333.87 517.33 334.2 520C334.53 522.67 334.78 524.83 335.2 528C335.62 531.17 336.15 535.42 336.7 539C337.25 542.58 337.87 545.82 338.5 549.5C339.13 553.18 339.73 557.25 340.5 561.1C341.27 564.95 342.18 569.33 343.1 572.6C344.02 575.87 345.05 578.77 346 580.7C346.95 582.63 347.8 583.35 348.8 584.2C349.8 585.05 350.8 585.49 352 585.8C353.2 586.11 351.5 586.01 356 586.05C360.5 586.09 375.17 585.88 379 586.05C382.83 586.22 379 586.88 379 587.05Z" fill="#e5b7b2" stroke="none"/>
<path d="M283.8 586.2H380.5" stroke="#000" stroke-width="2" fill="none"/>
<path d="M285.3 577.6C286.92 577.68 292.3 578.22 295 578.1C297.7 577.98 299.75 577.67 301.5 576.9C303.25 576.13 304.33 574.98 305.5 573.5C306.67 572.02 307.62 570.07 308.5 568C309.38 565.93 309.93 564.18 310.8 561.1C311.67 558.02 312.87 553.02 313.7 549.5C314.53 545.98 315.18 543.58 315.8 540C316.42 536.42 316.93 531.33 317.4 528C317.87 524.67 318.23 522.67 318.6 520C318.97 517.33 319.27 514.67 319.6 512C319.93 509.33 320.3 506.17 320.6 504C320.9 501.83 321.07 500.2 321.4 499C321.73 497.8 322.13 497.05 322.6 496.8C323.07 496.55 323.67 497.05 324.2 497.5C324.73 497.95 325.2 499 325.8 499.5C326.4 500 327.1 500.25 327.8 500.5C328.5 500.75 329.47 500.42 330 501C330.53 501.58 330.7 502.17 331 504C331.3 505.83 331.53 509.33 331.8 512C332.07 514.67 332.33 517.33 332.6 520C332.87 522.67 333.08 524.83 333.4 528C333.72 531.17 334.03 535.42 334.5 539C334.97 542.58 335.63 545.82 336.2 549.5C336.77 553.18 337.23 557.25 337.9 561.1C338.57 564.95 339.33 569.33 340.2 572.6C341.07 575.87 342.05 578.58 343.1 580.7C344.15 582.82 345.02 584.41 346.5 585.3C347.98 586.19 346.58 585.93 352 586.05C357.42 586.18 374.5 586.05 379 586.05" fill="none" stroke="#284782" stroke-width="2.4" stroke-linejoin="round" stroke-linecap="butt"/>
<path d="M285.3 580.7C286.08 580.7 288.07 580.6 290 580.7C291.93 580.8 294.78 581.5 296.9 581.3C299.02 581.1 300.97 580.37 302.7 579.5C304.43 578.63 305.87 577.63 307.3 576.1C308.73 574.57 309.95 572.8 311.3 570.3C312.65 567.8 314.15 564.57 315.4 561.1C316.65 557.63 317.72 553.02 318.8 549.5C319.88 545.98 321.2 542.92 321.9 540C322.6 537.08 322.62 534.67 323 532C323.38 529.33 323.8 526.67 324.2 524C324.6 521.33 325 518.67 325.4 516C325.8 513.33 326.2 510.33 326.6 508C327 505.67 327.43 503.7 327.8 502C328.17 500.3 328.43 498.42 328.8 497.8C329.17 497.18 329.43 497.27 330 498.3C330.57 499.33 331.67 501.72 332.2 504C332.73 506.28 332.87 509.33 333.2 512C333.53 514.67 333.87 517.33 334.2 520C334.53 522.67 334.78 524.83 335.2 528C335.62 531.17 336.15 535.42 336.7 539C337.25 542.58 337.87 545.82 338.5 549.5C339.13 553.18 339.73 557.25 340.5 561.1C341.27 564.95 342.18 569.33 343.1 572.6C344.02 575.87 345.05 578.77 346 580.7C346.95 582.63 347.8 583.35 348.8 584.2C349.8 585.05 350.8 585.49 352 585.8C353.2 586.11 351.5 586.01 356 586.05C360.5 586.09 375.17 586.05 379 586.05" fill="none" stroke="#a8123c" stroke-width="2.4" stroke-linejoin="round" stroke-linecap="butt"/>
<path d="M285.3 577.2C286.08 577.2 288.63 577.1 290 577.2C291.37 577.3 291.97 577.88 293.5 577.8C295.03 577.72 297.28 577.37 299.2 576.7C301.12 576.03 303.37 575.05 305 573.8C306.63 572.55 307.75 571.32 309 569.2C310.25 567.08 311.28 564.38 312.5 561.1C313.72 557.82 315.23 553.02 316.3 549.5C317.37 545.98 318.15 543.58 318.9 540C319.65 536.42 320.25 531.33 320.8 528C321.35 524.67 321.7 522.67 322.2 520C322.7 517.33 323.27 514.67 323.8 512C324.33 509.33 324.95 506.17 325.4 504C325.85 501.83 326.03 500.2 326.5 499C326.97 497.8 327.62 497.05 328.2 496.8C328.78 496.55 329.53 496.3 330 497.5C330.47 498.7 330.7 501.58 331 504C331.3 506.42 331.53 509.33 331.8 512C332.07 514.67 332.33 517.33 332.6 520C332.87 522.67 333.08 524.83 333.4 528C333.72 531.17 334.03 535.42 334.5 539C334.97 542.58 335.63 545.82 336.2 549.5C336.77 553.18 337.23 557.25 337.9 561.1C338.57 564.95 339.33 569.33 340.2 572.6C341.07 575.87 342.05 578.58 343.1 580.7C344.15 582.82 345.02 584.41 346.5 585.3C347.98 586.19 346.58 585.93 352 586.05C357.42 586.18 374.5 586.05 379 586.05" fill="none" stroke="#6aaa45" stroke-width="2.4" stroke-linejoin="round" stroke-linecap="butt"/>
<path d="M285.2 490.9V586.9" stroke="#6aaa45" stroke-width="2.6" fill="none"/>
<g font-family="Liberation Sans, sans-serif">
<text x="0" y="0" font-size="19.2" fill="#000" stroke="#000" stroke-width="0.1" font-weight="bold" transform="translate(11.1 26.7) scale(1 1)">A</text>
<text x="0" y="0" font-size="19.2" fill="#000" stroke="#000" stroke-width="0.1" font-weight="bold" transform="translate(12 173.9) scale(0.9 1)">B</text>
<text x="0" y="0" font-size="19.2" fill="#000" stroke="#000" stroke-width="0.1" font-weight="bold" transform="translate(11.4 336.3) scale(0.98 1)">C</text>
<text x="0" y="0" font-size="19.2" fill="#000" stroke="#000" stroke-width="0.1" font-weight="bold" transform="translate(12 483.3) scale(0.93 1)">D</text>
<text x="108" y="26.2" font-size="11.5" fill="#111" stroke="#111" stroke-width="0.12" text-anchor="middle" font-weight="normal" textLength="96" lengthAdjust="spacingAndGlyphs">2’deoxyguanosine</text>
<text x="108.2" y="188.7" font-size="11.5" fill="#111" stroke="#111" stroke-width="0.12" text-anchor="middle" font-weight="normal" textLength="38.3" lengthAdjust="spacingAndGlyphs">RANKL</text>
<text x="223.2" y="174.6" font-size="11.5" fill="#111" stroke="#111" stroke-width="0.12" text-anchor="middle" font-weight="normal" textLength="97" lengthAdjust="spacingAndGlyphs">Agonist anti-CD40</text>
<text x="222.2" y="188.6" font-size="11.5" fill="#111" stroke="#111" stroke-width="0.12" text-anchor="middle" font-weight="normal" textLength="45.1" lengthAdjust="spacingAndGlyphs">antibody</text>
<text x="332.1" y="188.7" font-size="11.5" fill="#111" stroke="#111" stroke-width="0.12" text-anchor="middle" font-weight="normal" textLength="25.4" lengthAdjust="spacingAndGlyphs">IL-22</text>
<text x="108.1" y="336.2" font-size="11.5" fill="#111" stroke="#111" stroke-width="0.12" text-anchor="middle" font-weight="normal" textLength="39.6" lengthAdjust="spacingAndGlyphs">FGF-10</text>
<text x="222.6" y="336.2" font-size="11.5" fill="#111" stroke="#111" stroke-width="0.12" text-anchor="middle" font-weight="normal" textLength="24.2" lengthAdjust="spacingAndGlyphs">HGF</text>
<text x="331.4" y="336.2" font-size="11.5" fill="#111" stroke="#111" stroke-width="0.12" text-anchor="middle" font-weight="normal" textLength="22.5" lengthAdjust="spacingAndGlyphs">EGF</text>
<text x="107" y="483.5" font-size="11.5" fill="#111" stroke="#111" stroke-width="0.12" text-anchor="middle" font-weight="normal" textLength="34.3" lengthAdjust="spacingAndGlyphs">U0126</text>
<text x="222" y="483.5" font-size="11.5" fill="#111" stroke="#111" stroke-width="0.12" text-anchor="middle" font-weight="normal" textLength="47.5" lengthAdjust="spacingAndGlyphs">PD98059</text>
<text x="331.3" y="483.3" font-size="11.5" fill="#111" stroke="#111" stroke-width="0.12" text-anchor="middle" font-weight="normal" textLength="60.1" lengthAdjust="spacingAndGlyphs">PD0325901</text>
<rect x="165.3" y="32.3" width="7.5" height="7.5" fill="#284782"/>
<text x="176.3" y="39.3" font-size="10.6" fill="#111" stroke="#111" stroke-width="0.12" text-anchor="start" font-weight="normal" textLength="65.6" lengthAdjust="spacingAndGlyphs">No Treatment</text>
<rect x="165.3" y="46.5" width="7.5" height="7.5" fill="#b80a36"/>
<text x="176.3" y="53.5" font-size="10.6" fill="#111" stroke="#111" stroke-width="0.12" text-anchor="start" font-weight="normal" textLength="49.8" lengthAdjust="spacingAndGlyphs">Treatment</text>
<rect x="392.1" y="195.4" width="7.6" height="7.6" fill="#284782"/>
<text x="403.8" y="203.1" font-size="11.3" fill="#111" stroke="#111" stroke-width="0.12" text-anchor="start" font-weight="normal" textLength="71.2" lengthAdjust="spacingAndGlyphs">No Treatment</text>
<rect x="392.1" y="209.7" width="7.6" height="7.6" fill="#b80a36"/>
<text x="403.8" y="217.4" font-size="11.3" fill="#111" stroke="#111" stroke-width="0.12" text-anchor="start" font-weight="normal" textLength="53.4" lengthAdjust="spacingAndGlyphs">Treatment</text>
<rect x="392.1" y="224.1" width="7.6" height="7.6" fill="#c9c9cd"/>
<text x="403.8" y="231.8" font-size="11.3" fill="#111" stroke="#111" stroke-width="0.12" text-anchor="start" font-weight="normal" textLength="25.8" lengthAdjust="spacingAndGlyphs">FMO</text>
<rect x="392.1" y="341.7" width="7.6" height="7.6" fill="#284782"/>
<text x="403.8" y="348.9" font-size="11.3" fill="#111" stroke="#111" stroke-width="0.12" text-anchor="start" font-weight="normal" textLength="71.2" lengthAdjust="spacingAndGlyphs">No Treatment</text>
<rect x="392.1" y="355.9" width="7.6" height="7.6" fill="#b80a36"/>
<text x="403.8" y="363.1" font-size="11.3" fill="#111" stroke="#111" stroke-width="0.12" text-anchor="start" font-weight="normal" textLength="53.4" lengthAdjust="spacingAndGlyphs">Treatment</text>
<rect x="392.1" y="370.2" width="7.6" height="7.6" fill="#c9c9cd"/>
<text x="403.8" y="377.4" font-size="11.3" fill="#111" stroke="#111" stroke-width="0.12" text-anchor="start" font-weight="normal" textLength="25.8" lengthAdjust="spacingAndGlyphs">FMO</text>
<rect x="390.7" y="491.1" width="7.5" height="7.5" fill="#284782"/>
<text x="402.7" y="498.3" font-size="11.3" fill="#111" stroke="#111" stroke-width="0.12" text-anchor="start" font-weight="normal" textLength="106" lengthAdjust="spacingAndGlyphs">EGF vehicle+DMSO</text>
<rect x="390.7" y="505.5" width="7.5" height="7.5" fill="#b80a36"/>
<text x="402.7" y="512.7" font-size="11.3" fill="#111" stroke="#111" stroke-width="0.12" text-anchor="start" font-weight="normal" textLength="64.8" lengthAdjust="spacingAndGlyphs">EGF+DMSO</text>
<rect x="390.7" y="519.9" width="7.5" height="7.5" fill="#6aaa45"/>
<text x="402.7" y="527.1" font-size="11.3" fill="#111" stroke="#111" stroke-width="0.12" text-anchor="start" font-weight="normal" textLength="72.5" lengthAdjust="spacingAndGlyphs">EGF+Inhibitor</text>
<text x="126.5" y="503.8" font-size="11.2" fill="#2c3a5e" stroke="#2c3a5e" stroke-width="0.12" text-anchor="start" font-weight="normal" textLength="18.2" lengthAdjust="spacingAndGlyphs">351</text>
<text x="126.5" y="518.5" font-size="11.2" fill="#7a1a30" stroke="#7a1a30" stroke-width="0.12" text-anchor="start" font-weight="normal" textLength="18.2" lengthAdjust="spacingAndGlyphs">520</text>
<text x="126.5" y="532.8" font-size="11.2" fill="#6f9b54" stroke="#6f9b54" stroke-width="0.12" text-anchor="start" font-weight="normal" textLength="18.2" lengthAdjust="spacingAndGlyphs">144</text>
<text x="243.8" y="506.4" font-size="11.2" fill="#2c3a5e" stroke="#2c3a5e" stroke-width="0.12" text-anchor="start" font-weight="normal" textLength="18.2" lengthAdjust="spacingAndGlyphs">351</text>
<text x="243.8" y="521.3" font-size="11.2" fill="#7a1a30" stroke="#7a1a30" stroke-width="0.12" text-anchor="start" font-weight="normal" textLength="18.2" lengthAdjust="spacingAndGlyphs">520</text>
<text x="243.8" y="536" font-size="11.2" fill="#6f9b54" stroke="#6f9b54" stroke-width="0.12" text-anchor="start" font-weight="normal" textLength="18.2" lengthAdjust="spacingAndGlyphs">301</text>
<text x="354.8" y="505.6" font-size="11.2" fill="#2c3a5e" stroke="#2c3a5e" stroke-width="0.12" text-anchor="start" font-weight="normal" textLength="18.2" lengthAdjust="spacingAndGlyphs">351</text>
<text x="354.8" y="520.8" font-size="11.2" fill="#7a1a30" stroke="#7a1a30" stroke-width="0.12" text-anchor="start" font-weight="normal" textLength="18.2" lengthAdjust="spacingAndGlyphs">520</text>
<text x="354.8" y="535.6" font-size="11.2" fill="#6f9b54" stroke="#6f9b54" stroke-width="0.12" text-anchor="start" font-weight="normal" textLength="18.2" lengthAdjust="spacingAndGlyphs">356</text>
<text x="0" y="0" font-size="15.8" fill="#111" stroke="#111" stroke-width="0.25" transform="translate(47.8 376.2) rotate(-90)" textLength="111.4" lengthAdjust="spacingAndGlyphs">Percentage of Max</text>
<text x="0" y="0" font-size="15.8" fill="#111" stroke="#111" stroke-width="0.12" transform="translate(339.3 610.5) scale(0.82 1)">M</text>
<text x="0" y="0" font-size="15.8" fill="#111" stroke="#111" stroke-width="0.12" transform="translate(350.95 610.5) scale(0.82 1)">C</text>
<text x="0" y="0" font-size="15.8" fill="#111" stroke="#111" stroke-width="0.12" transform="translate(359.85 610.5) scale(0.82 1)">L</text>
<text x="0" y="0" font-size="15.8" fill="#111" stroke="#111" stroke-width="0.12" transform="translate(367.7 610.5) scale(0.82 1)">-</text>
<text x="0" y="0" font-size="15.8" fill="#111" stroke="#111" stroke-width="0.12" transform="translate(371.2 610.5) scale(0.82 1)">1</text>
</g>
<path d="M42.5 35.5V258.5M42.5 380.7V605.5H328" stroke="#000" stroke-width="1.8" fill="none"/>
<path d="M42.5 28.2L46.3 37L38.7 37Z" fill="#000"/>
<path d="M335.8 605.5L326.6 601.7L326.6 609.3Z" fill="#000"/>
<rect x="1" y="1" width="518" height="623" fill="none" stroke="#000" stroke-width="2"/>
</svg>
</body></html>
